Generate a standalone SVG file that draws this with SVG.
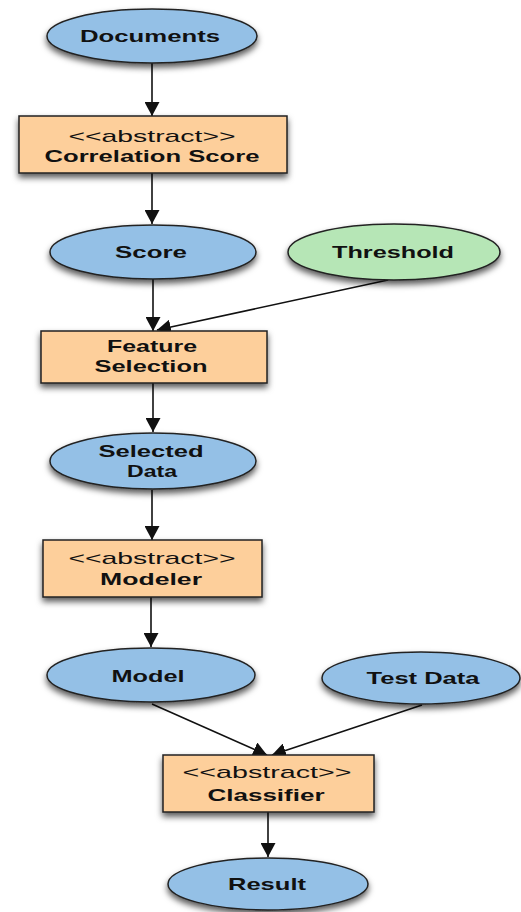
<svg xmlns="http://www.w3.org/2000/svg" width="521" height="912" viewBox="0 0 521 912">
<style>
.ell{fill:#94c0e6;stroke:#222;stroke-width:1.5}
.grn{fill:#b6e6b6;stroke:#222;stroke-width:1.5}
.box{fill:#fdcf9b;stroke:#222;stroke-width:1.5}
.t{font-family:"Liberation Sans",Arial,sans-serif;font-size:17px;font-weight:bold;fill:#111;text-anchor:middle}
.a{font-family:"Liberation Sans",Arial,sans-serif;font-size:17px;fill:#111;text-anchor:middle}
.c{stroke:#111;stroke-width:1.6;fill:none;marker-end:url(#ah)}
</style>
<defs>
<filter id="sh" x="-20%" y="-20%" width="140%" height="160%">
<feDropShadow dx="0" dy="4" stdDeviation="3" flood-color="#000" flood-opacity="0.65"/>
</filter>
<marker id="ah" markerUnits="userSpaceOnUse" markerWidth="15" markerHeight="15" viewBox="0 0 14 14" refX="13" refY="7" orient="auto">
<path d="M0,0 L13,7 L0,14 Z" fill="#111"/>
</marker>
</defs>
<g id="connectors">
<line class="c" x1="152" y1="63" x2="152" y2="116"/>
<line class="c" x1="152" y1="173" x2="152" y2="224"/>
<line class="c" x1="153" y1="279" x2="153" y2="331"/>
<line class="c" x1="388" y1="280" x2="157" y2="330"/>
<line class="c" x1="153" y1="383" x2="153" y2="432"/>
<line class="c" x1="152" y1="490" x2="152" y2="540"/>
<line class="c" x1="151" y1="597" x2="151" y2="647"/>
<line class="c" x1="152" y1="704" x2="267" y2="755"/>
<line class="c" x1="422" y1="705" x2="272" y2="755"/>
<line class="c" x1="268" y1="812" x2="268" y2="857"/>
</g>
<g id="documents">
<ellipse class="ell" filter="url(#sh)" cx="152" cy="36" rx="105" ry="27"/>
<text class="t" x="150" y="42" textLength="140" lengthAdjust="spacingAndGlyphs">Documents</text>
</g>
<g id="correlation-score">
<rect class="box" filter="url(#sh)" x="19" y="116" width="268" height="57"/>
<text class="a" x="152" y="142" textLength="167" lengthAdjust="spacingAndGlyphs">&lt;&lt;abstract&gt;&gt;</text>
<text class="t" x="152" y="162" textLength="215" lengthAdjust="spacingAndGlyphs">Correlation Score</text>
</g>
<g id="score">
<ellipse class="ell" filter="url(#sh)" cx="153" cy="252" rx="103" ry="27"/>
<text class="t" x="151" y="258" textLength="72" lengthAdjust="spacingAndGlyphs">Score</text>
</g>
<g id="threshold">
<ellipse class="grn" filter="url(#sh)" cx="394" cy="252" rx="106" ry="28"/>
<text class="t" x="393" y="258" textLength="122" lengthAdjust="spacingAndGlyphs">Threshold</text>
</g>
<g id="feature-selection">
<rect class="box" filter="url(#sh)" x="41" y="331" width="226" height="52"/>
<text class="t" x="152" y="352" textLength="90" lengthAdjust="spacingAndGlyphs">Feature</text>
<text class="t" x="151" y="372" textLength="113" lengthAdjust="spacingAndGlyphs">Selection</text>
</g>
<g id="selected-data">
<ellipse class="ell" filter="url(#sh)" cx="153" cy="461" rx="103" ry="28"/>
<text class="t" x="151" y="457" textLength="105" lengthAdjust="spacingAndGlyphs">Selected</text>
<text class="t" x="152" y="477" textLength="50" lengthAdjust="spacingAndGlyphs">Data</text>
</g>
<g id="modeler">
<rect class="box" filter="url(#sh)" x="43" y="540" width="219" height="57"/>
<text class="a" x="152" y="564" textLength="167" lengthAdjust="spacingAndGlyphs">&lt;&lt;abstract&gt;&gt;</text>
<text class="t" x="151" y="585" textLength="102" lengthAdjust="spacingAndGlyphs">Modeler</text>
</g>
<g id="model">
<ellipse class="ell" filter="url(#sh)" cx="151" cy="675" rx="104" ry="27"/>
<text class="t" x="148" y="682" textLength="73" lengthAdjust="spacingAndGlyphs">Model</text>
</g>
<g id="test-data">
<ellipse class="ell" filter="url(#sh)" cx="421" cy="678" rx="99" ry="26"/>
<text class="t" x="423" y="684" textLength="113" lengthAdjust="spacingAndGlyphs">Test Data</text>
</g>
<g id="classifier">
<rect class="box" filter="url(#sh)" x="163" y="755" width="211" height="57"/>
<text class="a" x="267" y="778" textLength="169" lengthAdjust="spacingAndGlyphs">&lt;&lt;abstract&gt;&gt;</text>
<text class="t" x="266" y="801" textLength="117" lengthAdjust="spacingAndGlyphs">Classifier</text>
</g>
<g id="result">
<ellipse class="ell" filter="url(#sh)" cx="268" cy="884" rx="100" ry="26"/>
<text class="t" x="267" y="890" textLength="78" lengthAdjust="spacingAndGlyphs">Result</text>
</g>
</svg>
